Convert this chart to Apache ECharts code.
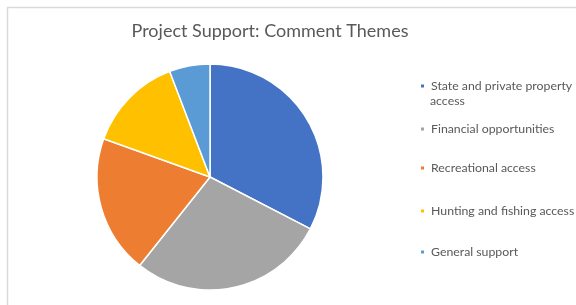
<!DOCTYPE html>
<html>
<head>
<meta charset="utf-8">
<script src="https://cdn.jsdelivr.net/npm/echarts@6/dist/echarts.min.js"></script>
<style>
  html, body { margin: 0; padding: 0; background: #fff; }
  #chart { width: 576px; height: 305px; }
</style>
</head>
<body>
<div id="chart"></div>
<script>
// comment themes, share of comments
const themes = ['State and private property access', 'Financial opportunities', 'Recreational access', 'Hunting and fishing access', 'General support']
const shares = [32.6, 28.1, 19.8, 13.7, 5.8]
const colors = ['#4472C4', '#A5A5A5', '#ED7D31', '#FFC000', '#5B9BD5']
const legendTops = [80, 123, 162, 205, 246]

const font = 'Lato, "Liberation Sans", sans-serif'

const chart = echarts.init(document.getElementById('chart'))

const legends = themes.map((name, i) => ({
  orient: 'vertical',
  left: 419,
  top: legendTops[i],
  data: [name],
  icon: 'rect',
  itemWidth: 5, itemHeight: 5, itemGap: 0,
  padding: 0,
  selectedMode: false,
  // first label wraps in the original, second line is drawn below as graphic text
  formatter: n => (i === 0 ? 'State and private property' : n),
  textStyle: { color: '#595959', fontSize: 12.3, fontFamily: font, padding: [0, 0, 0, 1] }
}))

chart.setOption({
  animation: false,
  color: colors,
  title: {
    text: 'Project Support: Comment Themes',
    left: 270, top: 22, textAlign: 'center', padding: 0,
    textStyle: { color: '#595959', fontSize: 18, fontWeight: 'normal', fontFamily: font }
  },
  legend: legends,
  graphic: [
    {
      type: 'rect', silent: true,
      shape: { x: 7.5, y: 7.5, width: 600, height: 320 },
      style: { fill: 'none', stroke: '#d9d9d9', lineWidth: 1.5 }
    },
    {
      type: 'text', left: 430, top: 95, silent: true,
      style: { text: 'access', fill: '#595959', fontSize: 12.3, fontFamily: font }
    }
  ],
  series: [{
    type: 'pie',
    center: [210, 177],
    radius: 113,
    startAngle: 90,
    clockwise: true,
    label: { show: false },
    labelLine: { show: false },
    emphasis: { disabled: true },
    itemStyle: { borderColor: '#fff', borderWidth: 1.5 },
    data: themes.map((name, i) => ({ name, value: shares[i] }))
  }]
})
</script>
</body>
</html>
